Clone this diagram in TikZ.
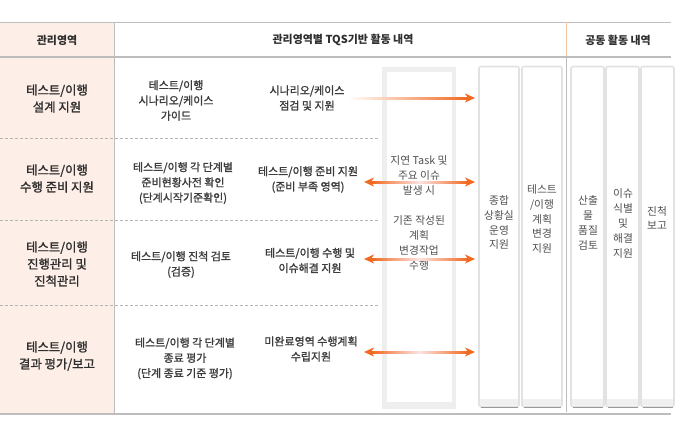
\documentclass[tikz,border=0pt]{standalone}
\usepackage{fontspec}
\setmainfont{Noto Sans CJK KR}
\newfontfamily\medfont[FakeBold=1.4]{Noto Sans CJK KR}
\usetikzlibrary{arrows.meta,calc}
\definecolor{pinkbg}{HTML}{FDEFE8}
\definecolor{linegray}{HTML}{BDBDBD}
\definecolor{dashgray}{HTML}{B5B5B5}
\definecolor{boxgray}{HTML}{E2E2E2}
\definecolor{bandgray}{HTML}{F0F0F0}
\definecolor{shadowgray}{HTML}{9A9A9A}
\definecolor{arrorange}{HTML}{F26A21}
\definecolor{arrred}{HTML}{EC5560}
\definecolor{arrpale}{HTML}{FBE3E3}
\definecolor{txtdark}{HTML}{2E2E2E}
\definecolor{txtmid}{HTML}{3C3C3C}
\definecolor{txtlight}{HTML}{505050}
\definecolor{tanline}{HTML}{F0C4A4}
\begin{document}
\begin{tikzpicture}[x=1bp,y=-1bp,
  hdr/.style={font=\bfseries\fontsize{11}{14}\selectfont, text=txtdark, inner sep=0},
  area/.style={font=\medfont\fontsize{12.4}{17}\selectfont, text=txtdark, align=center, inner sep=0},
  act/.style={font=\medfont\fontsize{11}{15.3}\selectfont, text=txtmid, align=center, inner sep=0},
  boxtxt/.style={font=\fontsize{10.8}{15}\selectfont, text=txtlight, align=center, inner sep=0},
  colbox/.style={draw=boxgray, line width=1.6bp, fill=white, rounded corners=2bp, inner sep=0, outer sep=0, minimum width=40bp, minimum height=340bp},
  sepline/.style={draw=dashgray, line width=0.8bp, dash pattern=on 3bp off 2bp},
  tip/.style={draw=arrorange, line width=2bp, -{Stealth[length=10bp,width=9bp,inset=3bp]}}
]
\useasboundingbox (0,0) rectangle (699,426);
\fill[white] (0,0) rectangle (699,426);
% pink left column
\fill[pinkbg] (0,22) rectangle (114,414);
% table lines
\draw[linegray, line width=1bp] (0,22) -- (671,22);
\draw[linegray, line width=2.2bp] (0,57) -- (671,57);
\draw[linegray, line width=1.2bp] (0,414) -- (671,414);
\draw[linegray, line width=1bp] (114,22) -- (114,414);
\draw[tanline, line width=1bp] (566,22) -- (566,56);
\draw[linegray, line width=1bp] (566,58) -- (566,412);
% dashed separators
\draw[sepline] (0,138) -- (380,138);
\draw[sepline] (0,220) -- (380,220);
\draw[sepline] (0,305) -- (380,305);
% header texts
\node[hdr] (h1) at (57,40) {관리영역};
\node[hdr] (h2) at (343,40) {관리영역별 TQS기반 활동 내역};
\node[hdr] (h3) at (618,40) {공동 활동 내역};
% left column
\node[area] (r1) at (57,98.5) {테스트/이행\\설계 지원};
\node[area] (r2) at (57,178.5) {테스트/이행\\수행 준비 지원};
\node[area] (r3) at (57,264) {테스트/이행\\진행관리 및\\진척관리};
\node[area] (r4) at (57,356) {테스트/이행\\결과 평가/보고};
% second column
\node[act] (g1) at (176,100.5) {테스트/이행\\시나리오/케이스\\가이드};
\node[act] (g2) at (183,183) {테스트/이행 각 단계별\\준비현황사전 확인\\(단계시작기준확인)};
\node[act] (g3) at (181,264.5) {테스트/이행 진척 검토\\(검증)};
\node[act] (g4) at (185,358.5) {테스트/이행 각 단계별\\종료 평가\\(단계 종료 기준 평가)};
% third column
\node[act] (s1) at (307,98) {시나리오/케이스\\점검 및 지원};
\node[act] (s2) at (308,179.5) {테스트/이행 준비 지원\\(준비 부족 영역)};
\node[act] (s3) at (310,260.5) {테스트/이행 수행 및\\이슈해결 지원};
\node[act] (s4) at (311,349) {미완료영역 수행계획\\수립지원};
% big box
\node[fill=boxgray!60, inner sep=0, minimum width=74bp, minimum height=342bp] (big) at (419,238) {};
\fill[white] (387,72) rectangle (452,401.5);
\node[boxtxt] (bigt) at (419,213) {지연 Task 및\\주요 이슈\\발생 시\\[15bp]기존 작성된\\계획\\변경작업\\수행};
% column boxes
\foreach \nm/\cx/\w in {c1/499/40, c2/542/40, c3/587.5/33, c4/622.5/33, c5/657.5/33}{
  \node[colbox, minimum width=\w bp] (\nm) at (\cx,236.5) {};
  \fill[bandgray] ([xshift=1bp,yshift=8bp]\nm.south west) rectangle ([xshift=-1bp,yshift=1.2bp]\nm.south east);
  \draw[shadowgray, line width=1.2bp] ([xshift=1.5bp,yshift=-0.6bp]\nm.south west) -- ([xshift=-1.5bp,yshift=-0.6bp]\nm.south east);
}
\node[boxtxt] (c1t) at (499,222.5) {종합\\상황실\\운영\\지원};
\node[boxtxt] (c2t) at (542,219) {테스트\\/이행\\계획\\변경\\지원};
\node[boxtxt] (c3t) at (588,222.5) {산출\\물\\품질\\검토};
\node[boxtxt] (c4t) at (623,223.5) {이슈\\식별\\및\\해결\\지원};
\node[boxtxt] (c5t) at (657,218) {진척\\보고};
% arrows
\coordinate (a1s) at (348,98);  \coordinate (a1e) at (475,98);
\coordinate (a2s) at (364,182); \coordinate (a2e) at (475,182);
\coordinate (a3s) at (364,259); \coordinate (a3e) at (475,259);
\coordinate (a4s) at (364,352); \coordinate (a4e) at (475,352);
\shade[left color=white, middle color=arrred, right color=arrorange]
  ([yshift=1bp]a1s) rectangle ([xshift=-8bp,yshift=-1bp]a1e);
\draw[tip] ([xshift=-9bp]a1e) -- (a1e);
\foreach \s/\e in {a2s/a2e, a3s/a3e, a4s/a4e}{
  \shade[left color=arrorange, middle color=arrred, right color=arrpale]
    ([xshift=8bp,yshift=1bp]\s) rectangle ([yshift=-1bp]$(\s)!0.5!(\e)$);
  \shade[left color=arrpale, middle color=arrred, right color=arrorange]
    ([yshift=1bp]$(\s)!0.5!(\e)$) rectangle ([xshift=-8bp,yshift=-1bp]\e);
  \draw[tip] ([xshift=9bp]\s) -- (\s);
  \draw[tip] ([xshift=-9bp]\e) -- (\e);
}
\end{tikzpicture}
\end{document}
